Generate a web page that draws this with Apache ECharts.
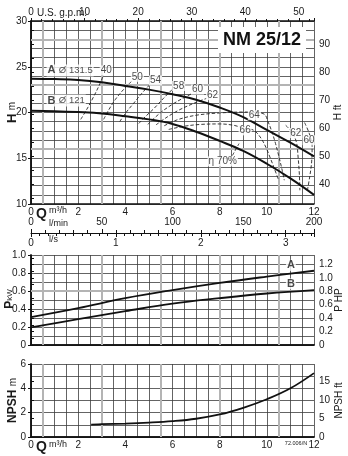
<!DOCTYPE html>
<html><head><meta charset="utf-8">
<script src="https://cdn.jsdelivr.net/npm/echarts@6/dist/echarts.min.js"></script>
<style>html,body{margin:0;padding:0;background:#fff}#c{width:348px;height:456px}</style>
</head><body><div id="c"></div>
<script>
// ---------- DATA ----------
const qH = [0,1,2,3,4,5,6,7,8,9,10,11,12];
const headA = [23.7,23.65,23.55,23.3,22.9,22.5,22.0,21.4,20.55,19.5,18.1,16.7,15.2];
const headB = [20.2,20.15,20.05,19.9,19.6,19.25,18.75,17.9,16.9,15.8,14.4,12.8,11.0];

const qP = [0,2,4,6,8,10,12];
const powerA = [0.31,0.41,0.52,0.61,0.69,0.76,0.825];
const powerB = [0.195,0.287,0.376,0.46,0.52,0.572,0.61];

const qN = [2.55,3,4,5,6,7,8,9,10,11,12];
const npsh = [1.02,1.05,1.1,1.18,1.3,1.5,1.85,2.4,3.1,4.0,5.25];

// iso-efficiency curves [Q m3/h, H m]
const eff40 = [[2.11,19.25],[2.4,20.5],[2.65,21.7],[2.88,22.9],[3.08,24.1]];
const eff50 = [[3.08,19.25],[3.3,20.3],[3.57,21.4],[3.92,22.5],[4.3,23.5]];
const eff54 = [[3.76,19.0],[4.03,20.0],[4.35,21.0],[4.7,22.1],[5.06,23.1]];
const eff58 = [[4.57,18.8],[4.87,19.6],[5.2,20.4],[5.6,21.5],[6.06,22.7]];
const eff60 = [[4.95,18.7],[5.5,20.0],[6.0,20.9],[6.4,21.5],[6.85,22.1]];
const eff62 = [[5.3,18.65],[5.77,19.5],[6.3,20.3],[6.9,21.0],[7.45,21.55]];
const eff64 = [[5.65,18.55],[6.2,19.2],[7.0,19.7],[8.0,19.95],[9.0,20.05],[9.5,20.0],[9.9,19.8],[10.05,19.0],[10.2,18.0],[10.37,16.6],[10.52,15.1],[10.65,13.7],[10.74,12.6]];
const eff66 = [[5.84,18.15],[6.5,18.5],[7.2,18.7],[8.0,18.75],[8.6,18.6],[9.0,18.3],[9.45,18.05],[9.75,17.2],[9.96,16.2],[10.15,15.0],[10.3,14.0],[10.5,12.6]];
const eff62r = [[10.8,18.6],[11.05,17.9],[11.25,16.8],[11.33,15.0],[11.38,13.2],[11.4,11.5]];
const eff60r = [[11.6,18.9],[11.8,17.7],[11.92,16.4],[11.9,14.6],[11.82,13.0],[11.72,11.5]];
const eta70 = [[8.54,15.3],[8.82,16.6]];
const effCurves = [eff40,eff50,eff54,eff58,eff60,eff62,eff64,eff66,eff62r,eff60r,eta70];

// efficiency labels: [Q, H, text]
const effLabels = [[3.19,24.6,'40'],[4.51,23.9,'50'],[5.28,23.5,'54'],[6.26,22.9,'58'],[7.06,22.5,'60'],[7.7,21.9,'62'],[9.47,19.7,'64'],[9.08,18.05,'66'],[11.23,17.75,'62'],[11.79,16.97,'60']];
const etaLabel = [8.13,14.66,'η 70%'];
// curve names: [Q, H, letter, diameter]
const headNames = [[0.64,24.6,'A','Ø 131.5'],[0.64,21.3,'B','Ø 121']];
const powerNames = [[11.02,0.885,'A'],[11.02,0.68,'B']];

const grayQ = [0.5,3,5.5,8,10.5];
const grayH = [28,23,16];
const grayP = [0.6];
const hFtLabels = [40,50,60,70,80,90];
const hFtTicks = [35,40,45,50,55,60,65,70,75,80,85,90,95];
const hpLabels = [0,0.2,0.4,0.6,0.8,1.0,1.2];
const hpTicks = [0,0.1,0.2,0.3,0.4,0.5,0.6,0.7,0.8,0.9,1.0,1.1,1.2,1.3];
const npshFtLabels = [0,5,10,15];

// unit conversions
const QMAX = 12, M3H_PER_GPM = 0.2271247, M_PER_FT = 0.3048, KW_PER_HP = 0.7457;

// ---------- STYLE ----------
const FONT = 'Liberation Sans, Arial, sans-serif';
const TXT = '#1a1a1a';
const DARK = '#3c3c3c';
const GRAY = '#b4b4b4';
const L = 31, R = 34;
const lbl = (o) => Object.assign({color: TXT, fontFamily: FONT, fontSize: 10}, o||{});
const border = {show: true, lineStyle: {color: '#111', width: 1.5}};
const split = {show: true, lineStyle: {color: DARK, width: 0.8}};
const fmt1 = v => (v === 0 ? '0' : v.toFixed(1));

function qAxis(grid, labels) {
  return {type: 'value', gridIndex: grid, position: 'bottom', min: 0, max: QMAX, interval: 2,
    axisLine: border, axisTick: {show: false},
    axisLabel: labels ? lbl({margin: 3}) : {show: false},
    splitLine: split, minorTick: {show: false, splitNumber: 4}, minorSplitLine: split};
}
function topLine(grid) {
  return {type: 'value', gridIndex: grid, position: 'top', min: 0, max: QMAX,
    axisLine: border, axisTick: {show: false}, axisLabel: {show: false}, splitLine: {show: false}};
}
const richName = (bsize, ssize) => ({b: {fontWeight: 'bold', fontSize: bsize, fontFamily: FONT, fill: TXT, color: TXT}, s: {fontSize: ssize || 10, fontFamily: FONT, fill: TXT, color: TXT}});
function nameStyle(bsize) {
  return {fontFamily: FONT, color: TXT, rich: richName(bsize)};
}
function axisName(text, gap, bsize) {
  return {name: text, nameLocation: 'middle', nameRotate: 90, nameGap: gap, nameMoveOverlap: false, nameTextStyle: nameStyle(bsize)};
}

const markGray = (xs, ys) => ({silent: true, symbol: 'none', z: 1, animation: false,
  label: {show: false}, emphasis: {disabled: true},
  lineStyle: {color: GRAY, width: 2, type: 'solid'},
  data: xs.map(v => ({xAxis: v})).concat(ys.map(v => ({yAxis: v})))});

const series = [];
series.push({type: 'line', xAxisIndex: 0, yAxisIndex: 0, z: 4, smooth: 0.4, symbol: 'none',
  lineStyle: {color: '#111', width: 2}, data: qH.map((q,i) => [q, headA[i]]), markLine: markGray(grayQ, grayH)});
series.push({type: 'line', xAxisIndex: 0, yAxisIndex: 0, z: 4, smooth: 0.4, symbol: 'none',
  lineStyle: {color: '#111', width: 2}, data: qH.map((q,i) => [q, headB[i]])});
effCurves.forEach(c => series.push({type: 'line', xAxisIndex: 0, yAxisIndex: 0, z: 3, smooth: 0.35, symbol: 'none',
  lineStyle: {color: '#222', width: 0.9, type: [3.5,2]}, data: c}));
series.push({type: 'scatter', xAxisIndex: 0, yAxisIndex: 0, z: 8, symbolSize: 1, itemStyle: {color: 'rgba(0,0,0,0)'},
  label: lbl({show: true, position: 'inside', formatter: '{b}', backgroundColor: '#fff', padding: [0,1]}),
  data: effLabels.map(d => ({name: d[2], value: [d[0], d[1]]})).concat([{name: etaLabel[2], value: [etaLabel[0], etaLabel[1]]}])});
series.push({type: 'scatter', xAxisIndex: 0, yAxisIndex: 0, z: 8, symbolSize: 1, itemStyle: {color: 'rgba(0,0,0,0)'},
  label: {show: true, position: 'right', distance: 0, backgroundColor: '#fff', padding: [0,1],
    formatter: p => '{a|' + p.data.letter + '} {n|' + p.data.dia + '}',
    rich: {a: {fontWeight: 'bold', fontSize: 11, fontFamily: FONT, color: TXT}, n: {fontSize: 9.5, fontFamily: FONT, color: TXT}}},
  data: headNames.map(d => ({value: [d[0], d[1]], letter: d[2], dia: d[3]}))});

series.push({type: 'line', xAxisIndex: 2, yAxisIndex: 2, z: 4, smooth: 0.4, symbol: 'none',
  lineStyle: {color: '#111', width: 1.8}, data: qP.map((q,i) => [q, powerA[i]]), markLine: markGray(grayQ, grayP)});
series.push({type: 'line', xAxisIndex: 2, yAxisIndex: 2, z: 4, smooth: 0.4, symbol: 'none',
  lineStyle: {color: '#111', width: 1.8}, data: qP.map((q,i) => [q, powerB[i]])});
series.push({type: 'scatter', xAxisIndex: 2, yAxisIndex: 2, z: 8, symbolSize: 1, itemStyle: {color: 'rgba(0,0,0,0)'},
  label: lbl({show: true, position: 'inside', formatter: '{b}', fontWeight: 'bold', fontSize: 11, backgroundColor: '#fff', padding: [0,1]}),
  data: powerNames.map(d => ({name: d[2], value: [d[0], d[1]]}))});

series.push({type: 'line', xAxisIndex: 4, yAxisIndex: 4, z: 4, smooth: 0.4, symbol: 'none',
  lineStyle: {color: '#111', width: 1.8}, data: qN.map((q,i) => [q, npsh[i]]), markLine: markGray(grayQ, [])});

const gridBase = {left: L, right: R, containLabel: false, outerBoundsMode: 'none'};
const option = {
  animation: false,
  backgroundColor: '#fff',
  textStyle: {fontFamily: FONT},
  grid: [
    Object.assign({top: 21, height: 183}, gridBase),
    Object.assign({top: 255, height: 90}, gridBase),
    Object.assign({top: 364, height: 73}, gridBase),
    Object.assign({top: 232, height: 1}, gridBase)
  ],
  xAxis: [
    qAxis(0, true),
    {type: 'value', gridIndex: 0, position: 'top', min: 0, max: QMAX / M3H_PER_GPM, interval: 10,
      axisLine: border, axisTick: {show: true, length: 3, lineStyle: {color: '#111'}},
      minorTick: {show: true, splitNumber: 5, length: 2, lineStyle: {color: '#111'}},
      axisLabel: lbl({margin: 4, showMaxLabel: false}), splitLine: {show: false}},
    qAxis(1, false),
    topLine(1),
    qAxis(2, true),
    topLine(2),
    {type: 'value', gridIndex: 3, position: 'top', min: 0, max: 200, interval: 50,
      axisLine: {show: true, lineStyle: {color: '#111', width: 1}},
      axisTick: {show: true, length: 4, lineStyle: {color: '#111'}},
      minorTick: {show: true, splitNumber: 5, length: 3, lineStyle: {color: '#111'}},
      axisLabel: lbl({margin: 5}), splitLine: {show: false}},
    {type: 'value', gridIndex: 3, position: 'bottom', min: 0, max: QMAX / 3.6, interval: 1,
      axisLine: {show: false},
      axisTick: {show: true, length: 4, lineStyle: {color: '#111'}},
      minorTick: {show: true, splitNumber: 10, length: 3, lineStyle: {color: '#111'}},
      axisLabel: lbl({margin: 5, showMaxLabel: false}), splitLine: {show: false}}
  ],
  yAxis: [
    Object.assign({type: 'value', gridIndex: 0, position: 'left', min: 10, max: 30, interval: 5,
      axisLine: border, axisTick: {show: true, length: 3, lineStyle: {color: '#111'}},
      axisLabel: lbl({margin: 4}), splitLine: split, minorTick: {show: false, splitNumber: 5}, minorSplitLine: split},
      axisName('{b|H} {s|m}', 12, 13)),
    Object.assign({type: 'value', gridIndex: 0, position: 'right', min: 10 / M_PER_FT, max: 30 / M_PER_FT,
      axisLine: border, axisTick: {show: true, length: 3, customValues: hFtTicks, lineStyle: {color: '#111'}},
      axisLabel: lbl({margin: 5, customValues: hFtLabels}), splitLine: {show: false}},
      axisName('{s|H ft}', 19, 11)),
    {type: 'value', gridIndex: 1, position: 'left', min: 0, max: 1, interval: 0.2,
      axisLine: border, axisTick: {show: true, length: 3, lineStyle: {color: '#111'}},
      axisLabel: lbl({margin: 5, formatter: fmt1}), splitLine: split, minorTick: {show: false, splitNumber: 2}, minorSplitLine: split},
    Object.assign({type: 'value', gridIndex: 1, position: 'right', min: 0, max: 1 / KW_PER_HP,
      axisLine: border, axisTick: {show: true, length: 3, customValues: hpTicks, lineStyle: {color: '#111'}},
      axisLabel: lbl({margin: 5, customValues: hpLabels, formatter: fmt1}), splitLine: {show: false}},
      axisName('{s|P HP}', 20, 11)),
    Object.assign({type: 'value', gridIndex: 2, position: 'left', min: 0, max: 6, interval: 2,
      axisLine: border, axisTick: {show: true, length: 3, lineStyle: {color: '#111'}},
      axisLabel: lbl({margin: 5}), splitLine: split, minorTick: {show: false, splitNumber: 2}, minorSplitLine: split},
      axisName('{b|NPSH} {s|m}', 12, 12)),
    Object.assign({type: 'value', gridIndex: 2, position: 'right', min: 0, max: 6 / M_PER_FT,
      axisLine: border, axisTick: {show: true, length: 3, customValues: npshFtLabels, lineStyle: {color: '#111'}},
      axisLabel: lbl({margin: 5, customValues: npshFtLabels}), splitLine: {show: false}},
      axisName('{s|NPSH ft}', 20, 11)),
    {type: 'value', gridIndex: 3, show: false}
  ],
  graphic: [
    {type: 'text', x: 37, y: 13, z: 10, style: {text: 'U.S. g.p.m.', font: '10px ' + FONT, fill: TXT, verticalAlign: 'middle'}},
    {type: 'text', x: 41.5, y: 214, z: 10, style: {text: 'Q', font: 'bold 14px ' + FONT, fill: TXT, align: 'center', verticalAlign: 'middle'}},
    {type: 'text', x: 49, y: 211, z: 10, style: {text: 'm³/h', font: '9px ' + FONT, fill: TXT, verticalAlign: 'middle'}},
    {type: 'text', x: 49, y: 224, z: 10, style: {text: 'l/min', font: '9px ' + FONT, fill: TXT, verticalAlign: 'middle'}},
    {type: 'text', x: 49, y: 240, z: 10, style: {text: 'l/s', font: '9px ' + FONT, fill: TXT, verticalAlign: 'middle'}},
    {type: 'text', x: 41.5, y: 447, z: 10, style: {text: 'Q', font: 'bold 14px ' + FONT, fill: TXT, align: 'center', verticalAlign: 'middle'}},
    {type: 'text', x: 49, y: 445, z: 10, style: {text: 'm³/h', font: '9px ' + FONT, fill: TXT, verticalAlign: 'middle'}},
    {type: 'text', x: 296, y: 443, z: 10, style: {text: '72.006/N', font: '5.5px ' + FONT, fill: TXT, align: 'center', verticalAlign: 'middle'}},
    {type: 'text', x: 262, y: 40, z: 10, style: {text: 'NM 25/12', font: 'bold 18px ' + FONT, fill: '#111', align: 'center', verticalAlign: 'middle', backgroundColor: '#fff', padding: [4,5]}},
    {type: 'text', x: 10, y: 299, rotation: Math.PI / 2, z: 10, style: {text: '{b|P}{s|kW}', rich: richName(12, 8), fill: TXT, align: 'center', verticalAlign: 'middle'}}
  ],
  series: series
};
const chart = echarts.init(document.getElementById('c'), null, {renderer: 'canvas'});
chart.setOption(option);
</script></body></html>
